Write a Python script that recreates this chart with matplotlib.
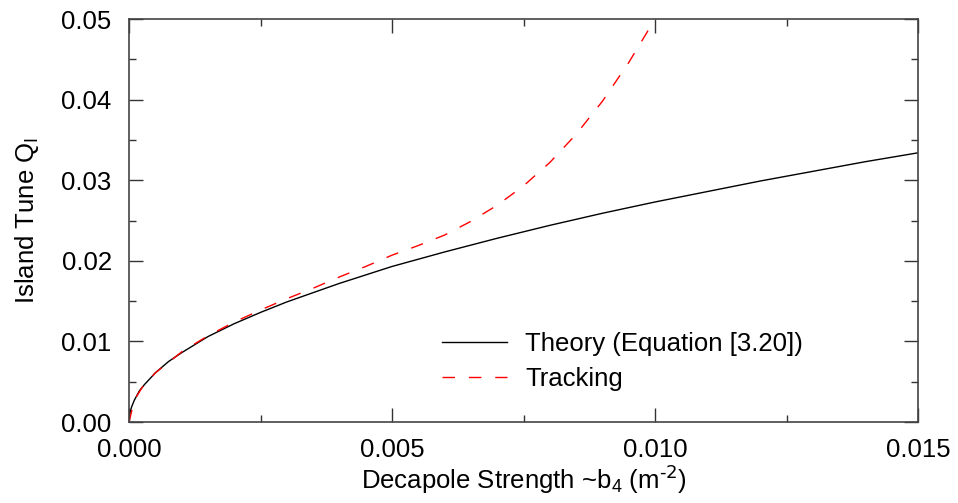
import matplotlib
matplotlib.use("Agg")
import matplotlib.pyplot as plt
from matplotlib.ticker import MultipleLocator, FormatStrFormatter

plt.rcParams["font.family"] = ["Liberation Sans", "DejaVu Sans"]
plt.rcParams["mathtext.default"] = "regular"

# ── data ───────────────────────────────────────────────────────────
theory_b4 = [0.0, 0.00002, 0.00005, 0.0001, 0.0002, 0.0003, 0.0005, 0.00075,
             0.001, 0.0015, 0.002, 0.0025, 0.003, 0.004, 0.005, 0.006,
             0.007, 0.008, 0.009, 0.010, 0.011, 0.012, 0.013, 0.014, 0.015]
theory_q = [0.0, 0.0012, 0.0019, 0.0027, 0.0039, 0.0047, 0.0061, 0.0075,
            0.0086, 0.0106, 0.0122, 0.0136, 0.0149, 0.0172, 0.0193, 0.0211,
            0.0228, 0.0244, 0.0259, 0.0273, 0.0286, 0.0299, 0.0311, 0.0323, 0.0334]

tracking_b4 = [0.0, 0.0001, 0.00025, 0.0005, 0.001, 0.0015, 0.002, 0.0025,
               0.003, 0.0035, 0.004, 0.0045, 0.005, 0.0055, 0.006, 0.0065,
               0.007, 0.0075, 0.008, 0.0085, 0.009, 0.0095, 0.010]
tracking_q = [0.0, 0.0027, 0.0043, 0.0061, 0.0087, 0.0107, 0.0124, 0.0139,
              0.0153, 0.0166, 0.0180, 0.0193, 0.0207, 0.0219, 0.0232, 0.0249,
              0.0269, 0.0293, 0.0322, 0.0357, 0.0398, 0.0446, 0.0500]

x_ticks = [0.000, 0.005, 0.010, 0.015]
y_ticks = [0.00, 0.01, 0.02, 0.03, 0.04, 0.05]

FS = 18.5

# ── plot ───────────────────────────────────────────────────────────
fig = plt.figure(figsize=(9.58, 5.03), dpi=100)
ax = fig.add_axes([0.1347, 0.161, 0.8236, 0.8012])

ax.plot(theory_b4, theory_q, color="black", linewidth=1.0,
        label="Theory (Equation [3.20])")
ax.plot(tracking_b4, tracking_q, color="#ff0000", linewidth=1.0,
        dashes=(9, 10), label="Tracking")

ax.set_xlim(0, 0.015)
ax.set_ylim(0, 0.05)
ax.set_xticks(x_ticks)
ax.set_yticks(y_ticks)
ax.xaxis.set_minor_locator(MultipleLocator(0.0025))
ax.yaxis.set_minor_locator(MultipleLocator(0.005))
ax.xaxis.set_major_formatter(FormatStrFormatter("%.3f"))
ax.yaxis.set_major_formatter(FormatStrFormatter("%.2f"))

ax.tick_params(which="both", direction="in", top=True, right=True,
               labelsize=FS, color="#333333")
ax.tick_params(which="major", length=10, width=1)
ax.tick_params(which="minor", length=5, width=1)
ax.tick_params(axis="y", which="major", pad=12.5)
ax.tick_params(axis="x", which="major", pad=11.5)
for s in ax.spines.values():
    s.set_color("#444444")
    s.set_linewidth(1.2)

ax.set_xlabel(r"Decapole Strength ~b$_4$ (m$^{\text{-2}}$)", fontsize=FS, labelpad=1)
ax.set_ylabel("Island Tune Q$_I$", fontsize=FS, labelpad=15)

ax.legend(loc="upper left", bbox_to_anchor=(0.383, 0.248), frameon=False,
          fontsize=FS, handlelength=2.55, handletextpad=0.7,
          borderaxespad=0, labelspacing=0.4)

fig.savefig("out.png", dpi=100)
